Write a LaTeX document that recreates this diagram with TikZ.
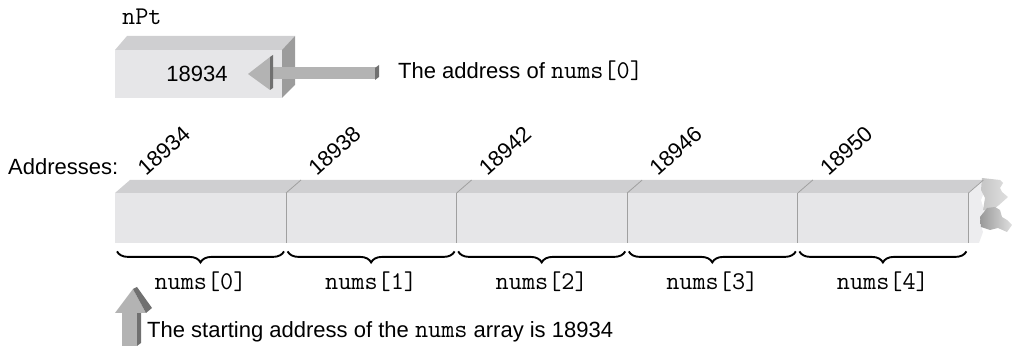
\documentclass[tikz,border=0pt]{standalone}
\usepackage{fontspec}
\setmainfont{Liberation Sans}
\usetikzlibrary{decorations.pathreplacing}
\definecolor{frontf}{HTML}{E6E6E8}
\definecolor{topf}{HTML}{CFCFD1}
\definecolor{sidef}{HTML}{9C9C9C}
\definecolor{arrowf}{HTML}{B3B3B3}
\definecolor{arrowd}{HTML}{707070}
\definecolor{divider}{HTML}{A0A0A0}
\begin{document}
\begin{tikzpicture}[x=1pt,y=-1pt,
  txt/.style={font=\fontsize{22}{26}\selectfont, inner sep=0pt},
  mono/.style={font=\fontsize{25.5}{28}\selectfont\ttfamily, inner sep=0pt},
  cell/.style={fill=frontf, minimum width=170.6pt, minimum height=50pt, inner sep=0pt, draw=none},
  brc/.style={decorate, decoration={brace, amplitude=11pt, mirror}, line width=1.9pt},
  divl/.style={draw=divider, line width=0.8pt},
]
\useasboundingbox (0,0) rectangle (1013,347);

% ---- pointer box nPt
\fill[topf] (115,50) -- (127,36) -- (295,36) -- (282,50) -- cycle;
\fill[sidef] (282,50) -- (295,36) -- (295,85) -- (282,98) -- cycle;
\node[fill=frontf, minimum width=167pt, minimum height=48pt, inner sep=0pt, anchor=north west] (ptr) at (115,50) {};
\node[txt, anchor=base] (pval) at (197,82) {18934};
\node[mono, anchor=base west] (pname) at (122,25) {nPt};

% block arrow into the pointer
\fill[arrowf] (273,67) rectangle (376,79);
\fill[arrowd] (375,68) -- (379,65) -- (379,77) -- (375,80) -- cycle;
\fill[arrowf] (248,74) -- (270,57) -- (270,90) -- cycle;
\fill[arrowd] (270,57) -- (273,55) -- (273,88) -- (270,90) -- cycle;
\node[txt, anchor=base west] (addr) at (398,79) {The address of {\fontsize{25.5}{28}\selectfont\ttfamily nums[0]}};

% ---- array
\node[txt, anchor=base west] (alab) at (8,175) {Addresses:};
\fill[topf] (115,193) -- (130,180) -- (983,180) -- (968,193) -- cycle;
\foreach \i in {0,...,4} {
  \node[cell, anchor=north west] (c\i) at (115+170.6*\i,193) {};
}
% broken end
\fill[frontf!70!white] (968,193) -- (983,180) -- (985,190) -- (981,200) -- (984,210) -- (980,222) -- (983,232) -- (979,243) -- (968,243) -- cycle;
\shade[left color=gray!45, right color=gray!25] (982,178) -- (1000,180) -- (1003,183) -- (1000,188) -- (1002,192) -- (1008,197) -- (999,205) -- (990,212) -- (983,210) -- (985,198) -- (981,190) -- cycle;
\shade[left color=gray!80, right color=gray!25] (980,217) -- (987,208) -- (995,207) -- (1000,210) -- (1002,217) -- (1007,220) -- (1012,225) -- (1007,232) -- (998,228) -- (990,230) -- (981,227) -- cycle;
\foreach \i in {0,...,4} {
  \draw[divl] (c\i.north east) -- (c\i.south east);
  \draw[divl] (c\i.north east) -- ([xshift=15pt,yshift=13pt]c\i.north east);
  \draw[brc] ([xshift=2pt,yshift=-8pt]c\i.south west) -- ([xshift=-2pt,yshift=-8pt]c\i.south east);
  \node[mono, anchor=base] (n\i) at ([yshift=-46pt]c\i.south) {nums[\i]};
  \node[txt, rotate=42, anchor=base west] (a\i) at ([xshift=31pt,yshift=16pt]c\i.north west) {\the\numexpr18934+4*\i\relax};
}

% ---- start arrow
\fill[arrowf] (122,313) rectangle (137,346);
\fill[arrowd] (137,313) -- (141,310) -- (141,343) -- (137,346) -- cycle;
\fill[arrowf] (133,289) -- (115,313) -- (146,313) -- cycle;
\fill[arrowd] (133,289) -- (137,287) -- (152,308) -- (146,313) -- cycle;
\node[txt, anchor=base west] (st) at (147,338) {The starting address of the {\fontsize{25.5}{28}\selectfont\ttfamily nums} array is 18934};
\end{tikzpicture}
\end{document}
